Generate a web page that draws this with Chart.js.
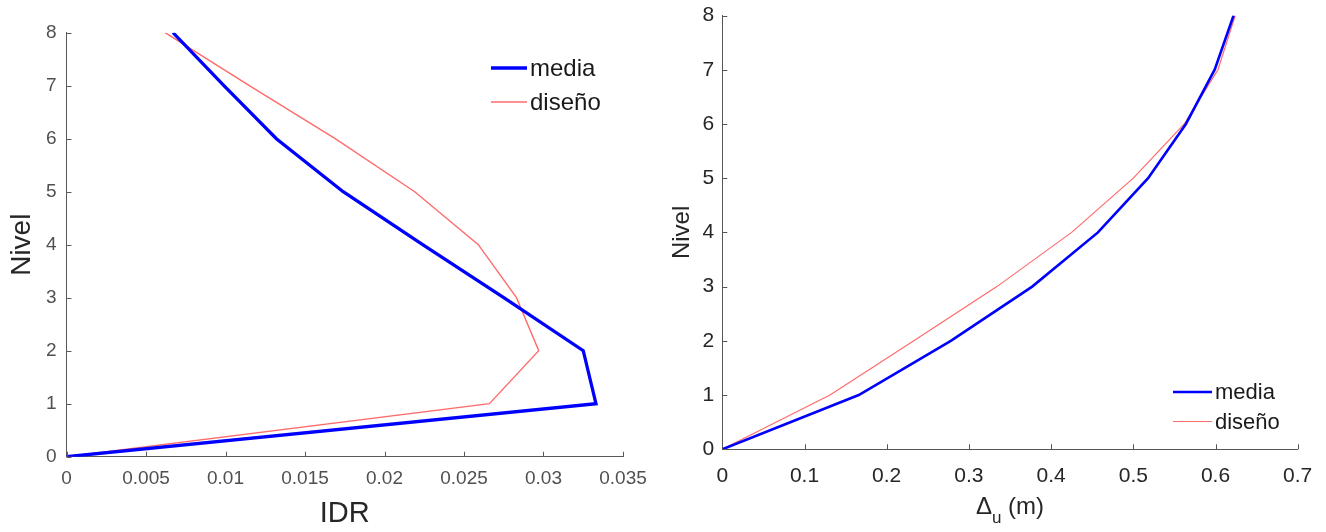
<!DOCTYPE html>
<html>
<head>
  <title>IDR y desplazamientos por nivel</title>
  <style>
    body {
      margin: 0;
      background: #ffffff;
      font-family: "Liberation Sans", Arial, sans-serif;
    }
    .panel {
      position: absolute;
      top: 0;
      height: 532px;
    }
    #leftPanel { left: 0; width: 660px; }
    #rightPanel { left: 660px; width: 666px; }
  </style>
</head>
<body>
  <div class="panel" id="leftPanel"><canvas id="idrChart" width="660" height="532"></canvas></div>
  <div class="panel" id="rightPanel"><canvas id="despChart" width="666" height="532"></canvas></div>

  <script src="https://cdn.jsdelivr.net/npm/chart.js"></script>
  <script>
    // valores
    const niveles = [0, 1, 2, 3, 4, 5, 6, 7, 8];
    const idrMedia = [0, 0.0333, 0.0325, 0.0275, 0.0224, 0.0174, 0.0132, 0.0099, 0.0067];
    const idrDiseno = [0, 0.0266, 0.0297, 0.0283, 0.0259, 0.0219, 0.0169, 0.0115, 0.0062];
    const despMedia = [0, 0.166, 0.278, 0.377, 0.457, 0.518, 0.564, 0.599, 0.622];
    const despDiseno = [0, 0.131, 0.233, 0.334, 0.425, 0.500, 0.562, 0.603, 0.624];

    const serieNombres = ['media', 'diseño'];

    const idrTickValues = [0, 0.005, 0.01, 0.015, 0.02, 0.025, 0.03, 0.035];
    const idrTickLabels = ['0', '0.005', '0.01', '0.015', '0.02', '0.025', '0.03', '0.035'];
    const despTickValues = [0, 0.1, 0.2, 0.3, 0.4, 0.5, 0.6, 0.7];
    const despTickLabels = ['0', '0.1', '0.2', '0.3', '0.4', '0.5', '0.6', '0.7'];
    const nivelTickLabels = ['0', '1', '2', '3', '4', '5', '6', '7', '8'];

    const FONT = '"Liberation Sans", Arial, sans-serif';

    function toPoints(xs) {
      return xs.map((x, i) => ({ x: x, y: niveles[i] }));
    }

    // ticks hacia dentro, estilo matlab
    const innerTicks = {
      id: 'innerTicks',
      afterDraw(chart, args, opts) {
        const ctx = chart.ctx;
        const { x, y } = chart.scales;
        ctx.save();
        ctx.strokeStyle = opts.color;
        ctx.lineWidth = 1;
        ctx.beginPath();
        x.ticks.forEach(t => {
          const px = Math.round(x.getPixelForValue(t.value)) + 0.5;
          ctx.moveTo(px, y.bottom);
          ctx.lineTo(px, y.bottom - opts.length);
        });
        y.ticks.forEach(t => {
          const py = Math.round(y.getPixelForValue(t.value)) + 0.5;
          ctx.moveTo(x.left, py);
          ctx.lineTo(x.left + opts.length, py);
        });
        ctx.stroke();
        ctx.restore();
      }
    };

    // leyenda sin caja dentro del area
    const boxLegend = {
      id: 'boxLegend',
      afterDraw(chart, args, opts) {
        const ctx = chart.ctx;
        ctx.save();
        ctx.font = opts.fontSize + 'px ' + FONT;
        ctx.textBaseline = 'middle';
        ctx.textAlign = 'left';
        chart.data.datasets.forEach((ds, i) => {
          const yy = opts.y + i * opts.gap;
          ctx.strokeStyle = ds.borderColor;
          ctx.lineWidth = ds.borderWidth;
          ctx.beginPath();
          ctx.moveTo(opts.x, yy);
          ctx.lineTo(opts.x + opts.lineLen, yy);
          ctx.stroke();
          ctx.fillStyle = opts.color;
          ctx.fillText(ds.label, opts.x + opts.lineLen + 3, yy + 1);
        });
        ctx.restore();
      }
    };

    // titulo del eje x con subindice
    const subTitle = {
      id: 'subTitle',
      afterDraw(chart, args, opts) {
        if (!opts.main) return;
        const ctx = chart.ctx;
        const area = chart.chartArea;
        ctx.save();
        ctx.fillStyle = opts.color;
        ctx.textBaseline = 'alphabetic';
        ctx.textAlign = 'left';
        const big = opts.size + 'px ' + FONT;
        const small = Math.round(opts.size * 0.72) + 'px ' + FONT;
        ctx.font = big;
        const w1 = ctx.measureText(opts.main).width;
        const w3 = ctx.measureText(opts.rest).width;
        ctx.font = small;
        const w2 = ctx.measureText(opts.sub).width;
        let x0 = (area.left + area.right) / 2 - (w1 + w2 + w3) / 2;
        ctx.font = big;
        ctx.fillText(opts.main, x0, opts.baseline);
        ctx.font = small;
        ctx.fillText(opts.sub, x0 + w1, opts.baseline + 9);
        ctx.font = big;
        ctx.fillText(opts.rest, x0 + w1 + w2, opts.baseline);
        ctx.restore();
      }
    };

    function makeChart(canvasId, cfg) {
      const ctx = document.getElementById(canvasId).getContext('2d');
      return new Chart(ctx, {
        type: 'line',
        data: {
          datasets: [{
            label: serieNombres[0],
            data: toPoints(cfg.media),
            borderColor: '#0000ff',
            borderWidth: cfg.blueWidth,
            pointRadius: 0,
            tension: 0,
            fill: false
          }, {
            label: serieNombres[1],
            data: toPoints(cfg.diseno),
            borderColor: '#ff6b6b',
            borderWidth: cfg.redWidth,
            pointRadius: 0,
            tension: 0,
            fill: false
          }]
        },
        plugins: [innerTicks, boxLegend, subTitle],
        options: {
          responsive: false,
          animation: false,
          devicePixelRatio: 1,
          layout: { padding: { top: cfg.area.top, right: cfg.width - cfg.area.right, left: 0, bottom: 0 } },
          plugins: {
            legend: { display: false },
            tooltip: { enabled: false },
            innerTicks: { color: cfg.axisColor, length: 5 },
            boxLegend: cfg.legend,
            subTitle: cfg.subTitle || {}
          },
          scales: {
            x: {
              type: 'linear',
              min: cfg.xTicks[0],
              max: cfg.xTicks[cfg.xTicks.length - 1],
              grid: { display: false, drawTicks: false },
              border: { display: true, color: cfg.axisColor, width: 1 },
              afterBuildTicks: s => { s.ticks = cfg.xTicks.map(v => ({ value: v })); },
              afterFit: s => {
                s.height = 532 - cfg.area.bottom;
                s.paddingLeft = 0;
                s.paddingRight = 0;
              },
              ticks: {
                autoSkip: false,
                maxRotation: 0,
                padding: cfg.xPad,
                color: cfg.tickColor,
                font: { family: FONT, size: cfg.tickSize },
                callback: (v, i) => cfg.xLabels[i]
              },
              title: cfg.xTitle
            },
            y: {
              type: 'linear',
              min: 0,
              max: 8,
              grid: { display: false, drawTicks: false },
              border: { display: true, color: cfg.axisColor, width: 1 },
              afterBuildTicks: s => { s.ticks = niveles.map(v => ({ value: v })); },
              afterFit: s => {
                s.width = cfg.area.left;
                s.paddingTop = 0;
                s.paddingBottom = 0;
              },
              ticks: {
                autoSkip: false,
                padding: cfg.yPad,
                color: cfg.tickColor,
                font: { family: FONT, size: cfg.tickSize },
                callback: (v, i) => nivelTickLabels[i]
              },
              title: {
                display: true,
                text: 'Nivel',
                color: '#262626',
                font: { family: FONT, size: cfg.nivelSize },
                padding: { top: cfg.nivelPad, bottom: 0 }
              }
            }
          }
        }
      });
    }

    makeChart('idrChart', {
      media: idrMedia,
      diseno: idrDiseno,
      width: 660,
      area: { left: 66.5, right: 623, top: 32.7, bottom: 456.7 },
      xTicks: idrTickValues,
      xLabels: idrTickLabels,
      blueWidth: 3.3,
      redWidth: 1.4,
      axisColor: '#5a5a5a',
      tickColor: '#505050',
      tickSize: 19,
      xPad: 11,
      yPad: 10,
      nivelSize: 28,
      nivelPad: 5,
      xTitle: {
        display: true,
        text: 'IDR',
        color: '#262626',
        font: { family: FONT, size: 29 },
        padding: { top: 0, bottom: 1 }
      },
      legend: { x: 491, y: 68, gap: 34, lineLen: 36, fontSize: 24, color: '#1a1a1a' }
    });

    makeChart('despChart', {
      media: despMedia,
      diseno: despDiseno,
      width: 666,
      area: { left: 62.3, right: 637.7, top: 15.5, bottom: 449.3 },
      xTicks: despTickValues,
      xLabels: despTickLabels,
      blueWidth: 2.6,
      redWidth: 1.2,
      axisColor: '#555555',
      tickColor: '#262626',
      tickSize: 21,
      xPad: 14,
      yPad: 8,
      nivelSize: 24,
      nivelPad: 8,
      xTitle: { display: false },
      subTitle: { main: 'Δ', sub: 'u', rest: ' (m)', size: 24, baseline: 514, color: '#262626' },
      legend: { x: 513, y: 392, gap: 29.5, lineLen: 39, fontSize: 22, color: '#1a1a1a' }
    });
  </script>
</body>
</html>
